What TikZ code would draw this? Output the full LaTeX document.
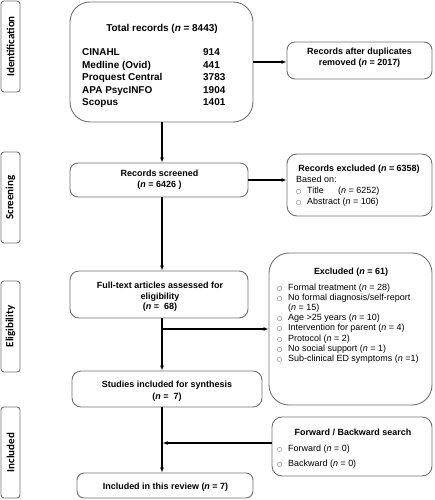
\documentclass[tikz,border=0pt]{standalone}
\usepackage{fontspec}
\setmainfont{Liberation Sans}
\newfontfamily\calfont{Carlito}
\newfontfamily\dvfont{DejaVu Sans}
\usetikzlibrary{arrows.meta}
\definecolor{boxgray}{HTML}{707070}
\newcommand{\bul}{\leavevmode\mbox{\dvfont\fontsize{6}{6}\selectfont\textcolor{black!75}{○}}}
\begin{document}
\begin{tikzpicture}[x=1bp,y=-1bp,
  box/.style={draw=boxgray, line width=0.9bp, fill=white, inner sep=0pt, rounded corners=#1},
  box/.default=8bp,
  side/.style={draw=boxgray, line width=0.9bp, inner sep=0pt, rounded corners=3bp,
    minimum width=91bp, minimum height=19bp, rotate=90,
    font=\calfont\bfseries\fontsize{11}{12}\selectfont},
  txt/.style={inner sep=0pt, font=\fontsize{9}{11}\selectfont},
  btxt/.style={inner sep=0pt, font=\fontsize{9}{11}\selectfont\bfseries},
  arr/.style={-{Latex[length=5bp,width=4bp]}, line width=1.2bp, black}]
\useasboundingbox (0,0) rectangle (435,500);

% side labels
\node[side] (sid) at (10.5,46.5) {Identification};
\node[side] (sscr) at (10.5,197.5) {Screening};
\node[side] (selig) at (10.5,326.5) {Eligibility};
\node[side] (sinc) at (10.5,452.5) {Included};

% boxes
\node[box=20bp, minimum width=183bp, minimum height=120bp] (total) at (161.5,62) {};
\node[box, minimum width=145bp, minimum height=37bp] (dup) at (359.5,60.5) {};
\node[box, minimum width=178bp, minimum height=34bp] (screened) at (159,180) {};
\node[box=10bp, minimum width=145bp, minimum height=62bp] (excl) at (359.5,185) {};
\node[box=9bp, minimum width=178bp, minimum height=47bp] (fulltext) at (159,294.5) {};
\node[box=20bp, minimum width=163bp, minimum height=152bp] (excluded) at (350.5,329) {};
\node[box=9bp, minimum width=190bp, minimum height=36bp] (studies) at (167,389) {};
\node[box=10bp, minimum width=160bp, minimum height=59bp] (fwd) at (352,446.5) {};
\node[box=7bp, minimum width=176bp, minimum height=25bp] (review) at (165,485.5) {};

% texts
\node[btxt, anchor=base, font=\fontsize{10}{12.5}\selectfont\bfseries] (totalt) at (162,31.6) {Total records (\textit{n} = 8443)};
\node[btxt, anchor=north west, font=\fontsize{10}{12.5}\selectfont\bfseries] (totall) at (82,46.8)
  {\begin{tabular}{@{}p{121bp}@{}l@{}}
  CINAHL & 914\\
  Medline (Ovid) & 441\\
  Proquest Central & 3783\\
  APA PsycINFO & 1904\\
  Scopus & 1401
  \end{tabular}};

\node[btxt, anchor=north] (dupt) at (359.5,46.6)
  {\begin{tabular}{@{}c@{}}Records after duplicates\\ removed (\textit{n} = 2017)\end{tabular}};

\node[btxt, anchor=north] (scrt) at (159.5,168.6)
  {\begin{tabular}{@{}c@{}}Records screened\\ (\textit{n} = 6426 )\end{tabular}};

\node[btxt, anchor=base] (exclt) at (359,171.6) {Records excluded (\textit{n} = 6358)};
\node[txt, anchor=north west, font=\fontsize{9}{11.1}\selectfont] (excll) at (296,174.9)
  {\begin{tabular}{@{}l@{}l@{}}
  \multicolumn{2}{@{}l@{}}{Based on:}\\
  \makebox[11bp][l]{\bul} & \makebox[31bp][l]{Title}(\textit{n} = 6252)\\
  \makebox[11bp][l]{\bul} & Abstract (\textit{n} = 106)
  \end{tabular}};

\node[btxt, anchor=north, font=\fontsize{9}{10.8}\selectfont\bfseries] (fullt) at (160,280.7)
  {\begin{tabular}{@{}c@{}}Full-text articles assessed for\\ eligibility\\ (\textit{n} =\ \ 68)\end{tabular}};

\node[btxt, anchor=base] (excludedt) at (351,274.3) {Excluded (\textit{n} = 61)};
\node[txt, anchor=north west, font=\fontsize{9}{10.1}\selectfont] (excludedl) at (277,283.5)
  {\begin{tabular}{@{}l@{}l@{}}
  \makebox[11bp][l]{\bul} & Formal treatment (\textit{n} = 28)\\
  \makebox[11bp][l]{\bul} & No formal diagnosis/self-report\\
       & (\textit{n} = 15)\\
  \makebox[11bp][l]{\bul} & Age >25 years (\textit{n} = 10)\\
  \makebox[11bp][l]{\bul} & Intervention for parent (\textit{n} = 4)\\
  \makebox[11bp][l]{\bul} & Protocol (\textit{n} = 2)\\
  \makebox[11bp][l]{\bul} & No social support (\textit{n} = 1)\\
  \makebox[11bp][l]{\bul} & Sub-clinical ED symptoms (\textit{n} =1)
  \end{tabular}};

\node[btxt, anchor=north, font=\fontsize{9}{11.4}\selectfont\bfseries] (studt) at (167,379.6)
  {\begin{tabular}{@{}c@{}}Studies included for synthesis\\ (\textit{n} =\ \ 7)\end{tabular}};

\node[btxt, anchor=base] (fwdt) at (353,435.3) {Forward / Backward search};
\node[txt, anchor=north west, font=\fontsize{9}{15.6}\selectfont] (fwdl) at (277,440.1)
  {\begin{tabular}{@{}l@{}l@{}}
  \makebox[11bp][l]{\bul} & Forward (\textit{n} = 0)\\
  \makebox[11bp][l]{\bul} & Backward (\textit{n} = 0)
  \end{tabular}};

\node[btxt, anchor=base] (revt) at (165.5,489.3) {Included in this review (\textit{n} = 7)};

% connectors
\coordinate (spine) at (162,0);
\coordinate (br) at (162,329);
\coordinate (fb) at (162.6,443);
\draw[arr] (total.east |- 0,62) -- (dup.west |- 0,62);
\draw[arr] (total.south -| spine) -- (screened.north -| spine);
\draw[arr] (screened.east) -- (screened.east -| excl.west);
\draw[arr] (screened.south -| spine) -- (fulltext.north -| spine);
\draw[arr] (fulltext.south -| spine) -- (studies.north -| spine);
\draw[arr] (br) -- (br -| excluded.west);
\draw[arr] (studies.south -| spine) -- (review.north -| spine);
\draw[arr] (fwd.west |- fb) -- (fb);
\end{tikzpicture}
\end{document}
